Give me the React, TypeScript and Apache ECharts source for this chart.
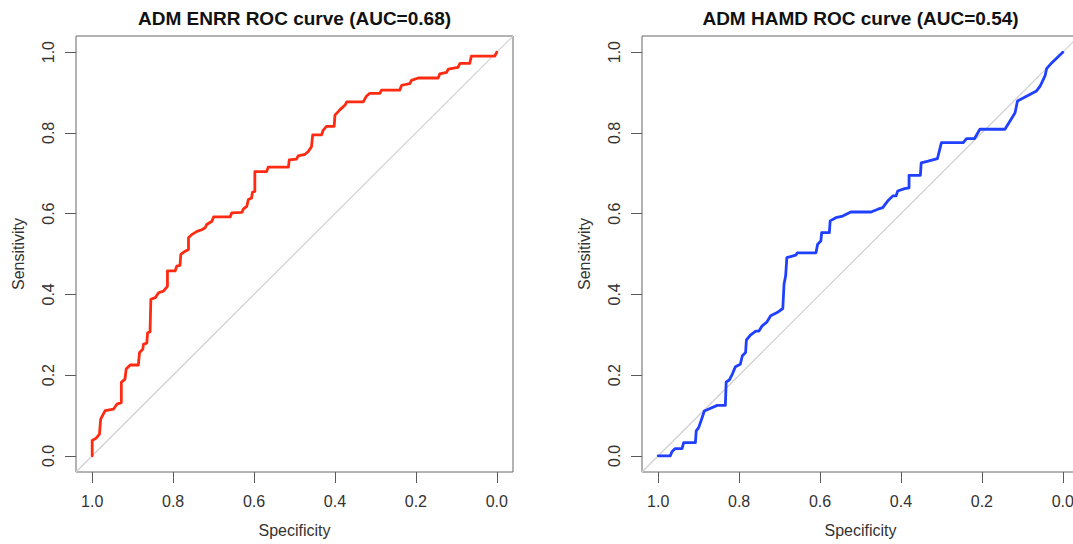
import React, { useEffect, useRef } from "react";
import * as echarts from "echarts";

const tickValues = [0, 0.2, 0.4, 0.6, 0.8, 1.0];
const titles = ["ADM ENRR ROC curve (AUC=0.68)", "ADM HAMD ROC curve (AUC=0.54)"];
const xName = "Specificity";
const yName = "Sensitivity";

// [specificity, sensitivity]
const enrrRoc: [number, number][] = [
  [1.0, 0.0], [1.0, 0.038], [0.99, 0.044], [0.982, 0.054], [0.979, 0.091], [0.968, 0.112],
  [0.947, 0.116], [0.939, 0.128], [0.928, 0.132], [0.928, 0.182], [0.919, 0.19], [0.916, 0.215],
  [0.906, 0.225], [0.886, 0.225], [0.883, 0.256], [0.875, 0.264], [0.873, 0.277], [0.865, 0.279],
  [0.863, 0.305], [0.857, 0.307], [0.855, 0.388], [0.844, 0.392], [0.836, 0.404], [0.824, 0.408],
  [0.814, 0.42], [0.814, 0.458], [0.795, 0.458], [0.791, 0.47], [0.783, 0.472], [0.781, 0.499],
  [0.77, 0.507], [0.762, 0.511], [0.762, 0.54], [0.754, 0.548], [0.741, 0.556], [0.729, 0.56],
  [0.721, 0.565], [0.717, 0.573], [0.704, 0.581], [0.7, 0.592], [0.659, 0.592], [0.655, 0.602],
  [0.63, 0.603], [0.626, 0.612], [0.618, 0.618], [0.614, 0.635], [0.606, 0.639], [0.604, 0.653],
  [0.598, 0.655], [0.598, 0.704], [0.569, 0.704], [0.565, 0.715], [0.515, 0.715], [0.513, 0.733],
  [0.495, 0.735], [0.491, 0.743], [0.474, 0.747], [0.466, 0.754], [0.458, 0.766], [0.455, 0.795],
  [0.433, 0.795], [0.429, 0.807], [0.421, 0.816], [0.402, 0.816], [0.4, 0.844], [0.388, 0.857],
  [0.375, 0.869], [0.371, 0.877], [0.33, 0.877], [0.323, 0.89], [0.314, 0.898], [0.289, 0.898],
  [0.285, 0.906], [0.24, 0.906], [0.235, 0.918], [0.215, 0.922], [0.211, 0.93], [0.194, 0.936],
  [0.145, 0.936], [0.141, 0.946], [0.124, 0.95], [0.12, 0.958], [0.096, 0.962], [0.091, 0.972],
  [0.067, 0.972], [0.063, 0.99], [0.005, 0.99], [0.0, 1.0],
];

const hamdRoc: [number, number][] = [
  [1.0, 0.0], [0.97, 0.0], [0.966, 0.01], [0.958, 0.018], [0.941, 0.018], [0.937, 0.033],
  [0.908, 0.033], [0.906, 0.062], [0.9, 0.07], [0.894, 0.087], [0.886, 0.111], [0.879, 0.114],
  [0.854, 0.125], [0.834, 0.125], [0.832, 0.183], [0.824, 0.188], [0.817, 0.202], [0.809, 0.221],
  [0.797, 0.227], [0.792, 0.248], [0.784, 0.256], [0.782, 0.287], [0.772, 0.299], [0.759, 0.309],
  [0.751, 0.309], [0.743, 0.322], [0.731, 0.332], [0.722, 0.347], [0.706, 0.355], [0.692, 0.365],
  [0.689, 0.425], [0.685, 0.446], [0.682, 0.491], [0.66, 0.497], [0.656, 0.503], [0.61, 0.503],
  [0.606, 0.524], [0.598, 0.532], [0.596, 0.553], [0.577, 0.553], [0.575, 0.582], [0.561, 0.59],
  [0.544, 0.594], [0.524, 0.604], [0.474, 0.604], [0.457, 0.611], [0.445, 0.615], [0.433, 0.631],
  [0.42, 0.644], [0.412, 0.644], [0.408, 0.656], [0.391, 0.662], [0.38, 0.664], [0.38, 0.695],
  [0.352, 0.695], [0.35, 0.726], [0.333, 0.73], [0.31, 0.736], [0.3, 0.776], [0.246, 0.776],
  [0.238, 0.786], [0.218, 0.786], [0.205, 0.809], [0.143, 0.809], [0.127, 0.835], [0.118, 0.85],
  [0.112, 0.879], [0.085, 0.893], [0.065, 0.904], [0.056, 0.916], [0.044, 0.941], [0.04, 0.959],
  [0.027, 0.974], [0.0, 1.0],
];

const diagonal: [number, number][] = [[1.04, -0.04], [-0.04, 1.04]];

export default function App() {
  const ref = useRef<HTMLDivElement>(null);
  useEffect(() => {
    const chart = echarts.init(ref.current as HTMLDivElement, null, { renderer: "svg" });
    const font = "'Liberation Sans', Arial, Helvetica, sans-serif";
    const axisColor = "#5a5a5a";
    const textColor = "#333";
    const gridDefs = [
      { left: 76, top: 36, width: 437, height: 436 },
      { left: 642, top: 36, width: 437, height: 436 },
    ];
    const centers = gridDefs.map((g) => g.left + g.width / 2);
    const mkX = (i: number) => ({
      type: "value",
      gridIndex: i,
      position: "bottom",
      min: -0.04,
      max: 1.04,
      inverse: true,
      splitLine: { show: false },
      axisLine: { show: false, onZero: false },
      axisTick: { show: true, inside: false, length: 11, customValues: tickValues, lineStyle: { color: axisColor, width: 1 } },
      axisLabel: {
        customValues: tickValues,
        formatter: (v: number) => v.toFixed(1),
        margin: 21,
        fontSize: 16,
        color: textColor,
        fontFamily: font,
      },
      name: xName,
      nameLocation: "middle",
      nameGap: 50,
      nameTextStyle: { fontSize: 16, color: textColor, fontFamily: font },
    });
    const mkY = (i: number) => ({
      type: "value",
      gridIndex: i,
      position: "left",
      min: -0.04,
      max: 1.04,
      splitLine: { show: false },
      axisLine: { show: false, onZero: false },
      axisTick: { show: true, inside: false, length: 11, customValues: tickValues, lineStyle: { color: axisColor, width: 1 } },
      axisLabel: {
        customValues: tickValues,
        formatter: (v: number) => v.toFixed(1),
        rotate: 90,
        margin: 20,
        fontSize: 16,
        color: textColor,
        fontFamily: font,
      },
      name: yName,
      nameLocation: "middle",
      nameGap: 50,
      nameTextStyle: { fontSize: 16, color: textColor, fontFamily: font },
    });
    const curves = [
      { data: enrrRoc, color: "#ff2a12" },
      { data: hamdRoc, color: "#2040ff" },
    ];
    const series: any[] = [];
    curves.forEach((c, i) => {
      series.push({
        type: "line",
        xAxisIndex: i,
        yAxisIndex: i,
        data: diagonal,
        showSymbol: false,
        symbol: "none",
        silent: true,
        lineStyle: { color: "#cfcfcf", width: 1.2 },
      });
      series.push({
        type: "line",
        xAxisIndex: i,
        yAxisIndex: i,
        data: c.data,
        showSymbol: false,
        symbol: "none",
        silent: true,
        lineStyle: { color: c.color, width: 2.8, join: "round", cap: "round" },
      });
    });
    chart.setOption({
      animation: false,
      backgroundColor: "#ffffff",
      title: titles.map((t, i) => ({
        text: t,
        left: centers[i],
        top: 9,
        textAlign: "center",
        padding: 0,
        textStyle: { fontSize: 19, fontWeight: "bold", color: "#111", fontFamily: font },
      })),
      grid: gridDefs.map((g) => ({
        ...g,
        show: true,
        borderColor: "#666",
        borderWidth: 1,
        backgroundColor: "transparent",
        containLabel: false,
        outerBoundsMode: "none",
      })),
      xAxis: [mkX(0), mkX(1)],
      yAxis: [mkY(0), mkY(1)],
      series,
    });
    return () => chart.dispose();
  }, []);
  return (
    <div
      ref={ref}
      style={{ position: "fixed", left: 0, top: 0, width: 1073, height: 544, background: "#fff" }}
    />
  );
}
